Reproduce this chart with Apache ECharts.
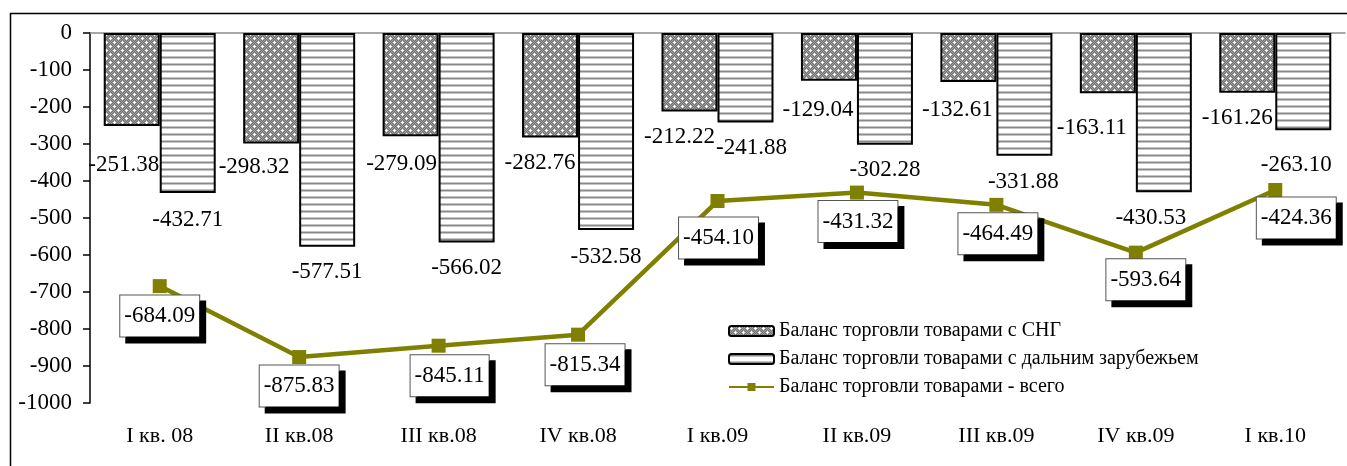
<!DOCTYPE html>
<html>
<head>
<meta charset="utf-8">
<script src="https://cdn.jsdelivr.net/npm/echarts@6/dist/echarts.min.js"></script>
<style>
html,body{margin:0;padding:0;background:#fff;}
#c{width:1347px;height:466px;}
</style>
</head>
<body>
<div id="c"></div>
<script>
const categories = ['I кв. 08','II кв.08','III кв.08','IV кв.08','I кв.09','II кв.09','III кв.09','IV кв.09','I кв.10'];
const cisValues = [-251.38,-298.32,-279.09,-282.76,-212.22,-129.04,-132.61,-163.11,-161.26];
const farValues = [-432.71,-577.51,-566.02,-532.58,-241.88,-302.28,-331.88,-430.53,-263.10];
const totalValues = [-684.09,-875.83,-845.11,-815.34,-454.10,-431.32,-464.49,-593.64,-424.36];
const seriesNames = ['Баланс торговли товарами с СНГ','Баланс торговли товарами с дальним зарубежьем','Баланс торговли товарами - всего'];

// label placement (pixel offsets, layout only)
const cisLabelOffsets = [[-8,85],[-17,79],[-9,79],[-10,78],[-10,65],[-11,53],[-11,52],[-16,65],[-10,55]];
const farLabelOffsets = [[0,107],[0,132],[0,130],[0,125],[6,70],[0,81],[-1,88],[-13,105],[-7,83]];
const totalLabelOffsets = [[0,30],[0,29],[11,30],[7,30],[1,37],[1,29],[1.5,29],[10,27],[21,28]];

const FONT = '"Liberation Serif","Times New Roman",serif';

function dotsPattern(){
  const c=document.createElement('canvas'); c.width=8; c.height=8;
  const g=c.getContext('2d');
  g.fillStyle='#9c9c9c'; g.fillRect(0,0,8,8);
  g.fillStyle='#747474';
  for(let y=0;y<8;y++)for(let x=0;x<8;x++) if((x+y)%2) g.fillRect(x,y,1,1);
  g.fillStyle='#ffffff';
  g.fillRect(2,1,1,3); g.fillRect(1,2,3,1);
  g.fillRect(6,5,1,3); g.fillRect(5,6,3,1);
  return c;
}
function stripesPattern(){
  const c=document.createElement('canvas'); c.width=4; c.height=7;
  const g=c.getContext('2d');
  g.fillStyle='#ffffff'; g.fillRect(0,0,4,7);
  g.fillStyle='#c4c4c4'; g.fillRect(0,0,4,1); g.fillRect(0,2,4,1);
  g.fillStyle='#8a8a8a'; g.fillRect(0,1,4,1);
  return c;
}

const chart = echarts.init(document.getElementById('c'), null, {renderer:'canvas'});

function withOffsets(vals, offs){
  return vals.map((v,i)=>({value:v, label:{offset:offs[i]}}));
}

const option = {
  animation:false,
  backgroundColor:'#ffffff',
  textStyle:{fontFamily:FONT},
  graphic:[{type:'rect', left:8, top:11, shape:{x:0,y:0,width:1400,height:520},
    style:{fill:'none', stroke:'#000', lineWidth:1.5}, silent:true, z:-10}],
  grid:{left:90, right:2, top:33, bottom:63},
  legend:{
    orient:'vertical', left:723, top:315, itemWidth:45, itemHeight:10, itemGap:6,
    textStyle:{fontFamily:FONT, fontSize:20, color:'#000', lineHeight:22},
    data:seriesNames
  },
  xAxis:[
    {type:'category', data:categories, position:'bottom',
     axisLine:{show:false}, axisTick:{show:false},
     axisLabel:{fontFamily:FONT, fontSize:22, color:'#000', margin:22}},
    {type:'category', data:categories, position:'top',
     axisLine:{show:true, onZero:false, lineStyle:{color:'#8c8c8c', width:1.5}},
     axisTick:{show:false}, axisLabel:{show:false}}
  ],
  yAxis:{type:'value', min:-1000, max:0, interval:100,
    axisLine:{show:true, lineStyle:{color:'#000', width:1.5}},
    axisTick:{show:true, length:7, lineStyle:{color:'#000', width:1.5}},
    splitLine:{show:false},
    axisLabel:{fontFamily:FONT, fontSize:23, color:'#000', margin:18, formatter:v=>String(v)}},
  series:[
    {name:seriesNames[0], type:'bar', barWidth:56, barGap:'0%',
     itemStyle:{color:{image:dotsPattern(), repeat:'repeat'}, borderColor:'#000', borderWidth:2},
     label:{show:true, position:'inside', fontFamily:FONT, fontSize:23, color:'#000',
       formatter:p=>p.value.toFixed(2)},
     data:withOffsets(cisValues, cisLabelOffsets), z:2},
    {name:seriesNames[1], type:'bar', barWidth:56, barGap:'0%',
     itemStyle:{color:{image:stripesPattern(), repeat:'repeat'}, borderColor:'#000', borderWidth:2},
     label:{show:true, position:'inside', fontFamily:FONT, fontSize:23, color:'#000',
       formatter:p=>p.value.toFixed(2)},
     data:withOffsets(farValues, farLabelOffsets), z:2},
    {name:seriesNames[2], type:'line', symbol:'rect', symbolSize:14,
     lineStyle:{color:'#808000', width:4.5}, itemStyle:{color:'#808000'},
     label:{show:true, position:'inside', fontFamily:FONT, fontSize:23, color:'#000',
       backgroundColor:'#fff', borderColor:'#555', borderWidth:1,
       padding:[8,4,8,4], lineHeight:25,
       shadowColor:'#000', shadowBlur:0, shadowOffsetX:6, shadowOffsetY:6,
       formatter:p=>p.value.toFixed(2)},
     data:withOffsets(totalValues, totalLabelOffsets),
     z:5}
  ]
};
chart.setOption(option);
</script>
</body>
</html>
